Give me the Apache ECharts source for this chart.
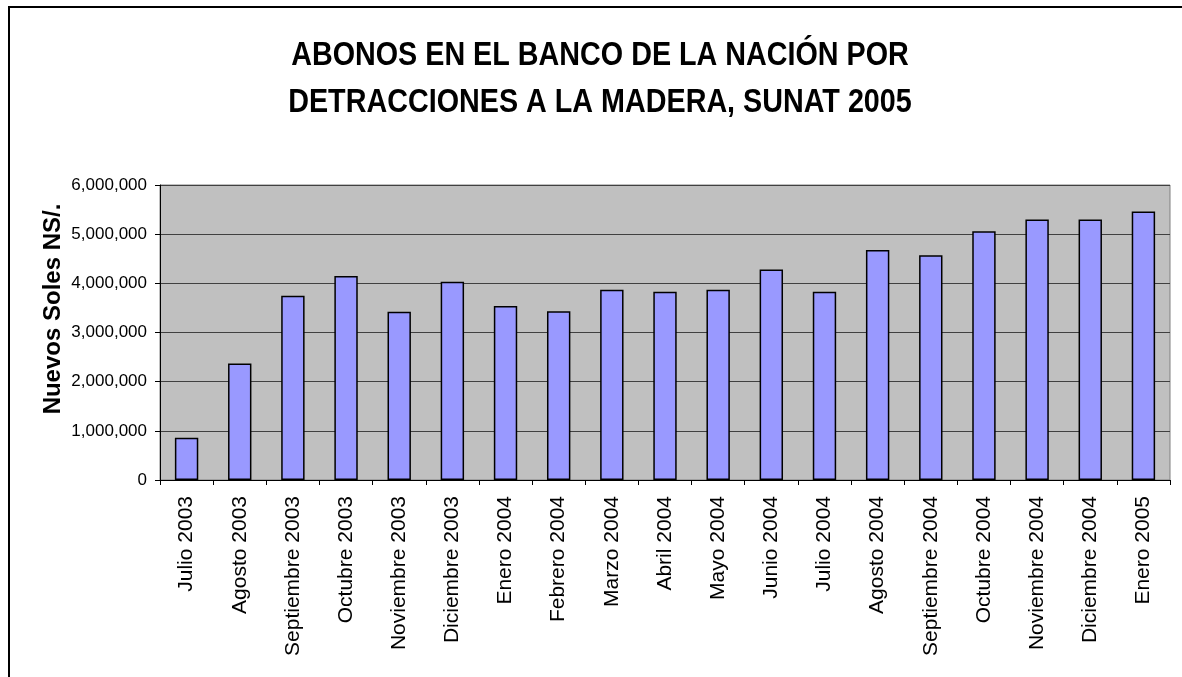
<!DOCTYPE html>
<html>
<head>
<meta charset="utf-8">
<script src="https://cdn.jsdelivr.net/npm/echarts@6/dist/echarts.min.js"></script>
<style>
  html, body { margin: 0; padding: 0; background: #fff; }
  #bar-chart { width: 1182px; height: 677px; }
</style>
</head>
<body>
<div id="bar-chart"></div>
<script>
const months = [
    'Julio 2003', 'Agosto 2003', 'Septiembre 2003', 'Octubre 2003', 'Noviembre 2003',
    'Diciembre 2003', 'Enero 2004', 'Febrero 2004', 'Marzo 2004', 'Abril 2004',
    'Mayo 2004', 'Junio 2004', 'Julio 2004', 'Agosto 2004', 'Septiembre 2004',
    'Octubre 2004', 'Noviembre 2004', 'Diciembre 2004', 'Enero 2005'
];
const abonos = [
    860000, 2370000, 3750000, 4150000, 3420000,
    4030000, 3540000, 3430000, 3870000, 3830000,
    3870000, 4280000, 3830000, 4680000, 4570000,
    5060000, 5300000, 5300000, 5460000
];
const titleLines = ['ABONOS EN EL BANCO DE LA NACIÓN POR', 'DETRACCIONES A LA MADERA, SUNAT 2005'];
const yName = 'Nuevos Soles NS/.';

const fmt = (v) => String(v).replace(/\B(?=(\d{3})+(?!\d))/g, ',');

const titleText = (text, y) => ({
    type: 'text',
    x: 600,
    y: y,
    scaleX: 0.845,
    style: {
        text: text,
        font: 'bold 34px "Liberation Sans", Arial, sans-serif',
        fill: '#000',
        align: 'center',
        verticalAlign: 'middle'
    }
});

const renderBar = () => {
    const barChart = echarts.init(document.querySelector('#bar-chart'));
    barChart.setOption({
        animation: false,
        backgroundColor: '#ffffff',
        graphic: [
            {
                type: 'rect',
                shape: { x: 9, y: 7, width: 1200, height: 700 },
                style: { fill: 'none', stroke: '#000', lineWidth: 2 },
                silent: true
            },
            titleText(titleLines[0], 56),
            titleText(titleLines[1], 103),
            {
                type: 'text',
                x: 53,
                y: 309,
                rotation: Math.PI / 2,
                style: {
                    text: yName,
                    font: 'bold 24px "Liberation Sans", Arial, sans-serif',
                    fill: '#000',
                    align: 'center',
                    verticalAlign: 'middle'
                }
            }
        ],
        grid: {
            left: 160,
            right: 12,
            top: 185,
            bottom: 197,
            show: true,
            backgroundColor: '#C0C0C0',
            borderColor: '#808080',
            borderWidth: 1
        },
        xAxis: {
            type: 'category',
            data: months,
            axisLine: { lineStyle: { color: '#000', width: 1 } },
            axisTick: { show: true, length: 5, lineStyle: { color: '#000' } },
            axisLabel: {
                rotate: 90,
                interval: 0,
                margin: 16,
                color: '#000',
                fontFamily: '"Liberation Sans", Arial, sans-serif',
                fontSize: 21
            }
        },
        yAxis: {
            type: 'value',
            min: 0,
            max: 6000000,
            interval: 1000000,
            axisLine: { show: true, lineStyle: { color: '#000', width: 1 } },
            axisTick: { show: true, length: 5, lineStyle: { color: '#000' } },
            axisLabel: {
                margin: 13,
                color: '#000',
                fontFamily: '"Liberation Sans", Arial, sans-serif',
                fontSize: 17,
                formatter: fmt
            },
            splitLine: { lineStyle: { color: '#404040', width: 1 } }
        },
        series: [
            {
                type: 'bar',
                data: abonos,
                barWidth: '44%',
                itemStyle: {
                    color: '#9999FF',
                    borderColor: '#000',
                    borderWidth: 1.5
                }
            }
        ]
    });
};

renderBar();
</script>
</body>
</html>
